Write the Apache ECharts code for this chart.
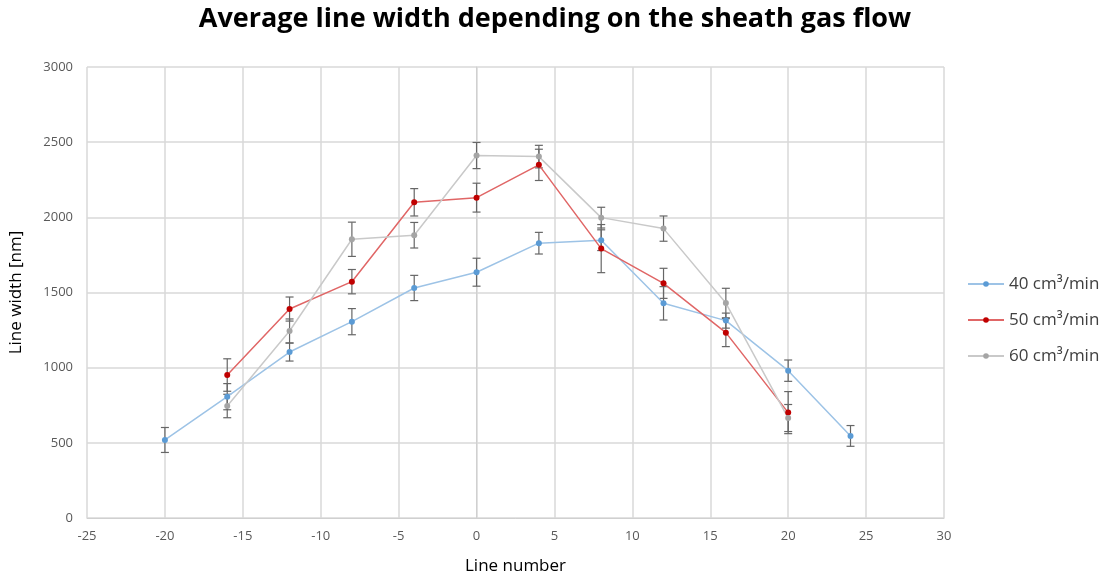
<!DOCTYPE html>
<html><head><meta charset="utf-8">
<script src="https://cdn.jsdelivr.net/npm/echarts@6/dist/echarts.min.js"></script>
<style>html,body{margin:0;padding:0;background:#fff}#c{width:1111px;height:580px}</style>
</head><body><div id="c"></div>
<script>
var x40 = [-20, -16, -12, -8, -4, 0, 4, 8, 12, 16, 20, 24];
var y40 = [519, 807, 1104, 1306, 1530, 1635, 1828, 1848, 1428, 1313, 980, 546];
var e40 = [83, 87, 60, 87, 84, 93, 72, 69, 111, 50, 71, 69];
var x50 = [-16, -12, -8, -4, 0, 4, 8, 12, 16, 20];
var y50 = [951, 1390, 1572, 2100, 2131, 2349, 1792, 1561, 1233, 701];
var e50 = [108, 80, 81, 91, 96, 104, 160, 100, 93, 140];
var x60 = [-16, -12, -8, -4, 0, 4, 8, 12, 16, 20];
var y60 = [745, 1244, 1854, 1881, 2411, 2404, 1998, 1925, 1430, 665];
var e60 = [78, 80, 114, 85, 87, 75, 69, 84, 98, 90];
var names = ['40 cm³/min', '50 cm³/min', '60 cm³/min'];
var markerColors = ['#5B9BD5', '#C00000', '#A5A5A5'];
var lineColors = ['#9DC3E6', '#E06666', '#C9C9C9'];

var FONT = 'Open Sans';
function pts(xs, ys) { return xs.map(function (x, i) { return [x, ys[i]]; }); }
function errData(xs, ys, es) { return xs.map(function (x, i) { return [x, ys[i] - es[i], ys[i] + es[i]]; }); }
function errSeries(xs, ys, es) {
  return {
    type: 'custom', silent: true, z: 1,
    data: errData(xs, ys, es),
    renderItem: function (params, api) {
      var lo = api.coord([api.value(0), api.value(1)]);
      var hi = api.coord([api.value(0), api.value(2)]);
      var w = 4;
      var st = { stroke: '#666', lineWidth: 1.2 };
      return { type: 'group', children: [
        { type: 'line', shape: { x1: lo[0], y1: lo[1], x2: hi[0], y2: hi[1] }, style: st },
        { type: 'line', shape: { x1: lo[0] - w, y1: lo[1], x2: lo[0] + w, y2: lo[1] }, style: st },
        { type: 'line', shape: { x1: hi[0] - w, y1: hi[1], x2: hi[0] + w, y2: hi[1] }, style: st }
      ]};
    }
  };
}
function lineSeries(k, xs, ys) {
  return {
    name: names[k], type: 'line', data: pts(xs, ys), z: 3,
    symbol: 'circle', symbolSize: 6,
    itemStyle: { color: markerColors[k] },
    lineStyle: { color: lineColors[k], width: 1.5 },
    emphasis: { disabled: true }
  };
}
var chart = echarts.init(document.getElementById('c'));
chart.setOption({
  animation: false,
  backgroundColor: '#fff',
  title: {
    text: 'Average line width depending on the sheath gas flow',
    left: 550, top: 1, textAlign: 'center',
    textStyle: { fontFamily: FONT, fontWeight: 'bold', fontSize: 27, color: '#000' }
  },
  grid: { left: 86, right: 167, top: 67, bottom: 62 },
  legend: {
    orient: 'vertical', left: 962, top: 268, itemGap: 14,
    itemWidth: 36, itemHeight: 7,
    data: names,
    textStyle: { fontFamily: FONT, fontSize: 17, color: '#404040', lineHeight: 22 }
  },
  xAxis: {
    type: 'value', min: -25, max: 30, interval: 5,
    name: 'Line number', nameLocation: 'middle', nameGap: 40,
    nameTextStyle: { fontFamily: FONT, fontSize: 17, color: '#000' },
    axisLine: { show: true, lineStyle: { color: '#D0D0D0' } },
    axisTick: { show: false },
    axisLabel: { fontFamily: FONT, fontSize: 13, color: '#595959', margin: 12 },
    splitLine: { show: true, lineStyle: { color: '#D9D9D9', width: 1.5 } }
  },
  yAxis: {
    type: 'value', min: 0, max: 3000, interval: 500,
    name: 'Line width [nm]', nameLocation: 'middle', nameGap: 62,
    nameTextStyle: { fontFamily: FONT, fontSize: 17, color: '#000' },
    axisLine: { show: true, lineStyle: { color: '#D0D0D0' } },
    axisTick: { show: false },
    axisLabel: { fontFamily: FONT, fontSize: 13, color: '#595959', margin: 14,
      formatter: function (v) { return String(v); } },
    splitLine: { show: true, lineStyle: { color: '#D9D9D9', width: 1.5 } }
  },
  series: [
    errSeries(x40, y40, e40), errSeries(x50, y50, e50), errSeries(x60, y60, e60),
    lineSeries(0, x40, y40), lineSeries(1, x50, y50), lineSeries(2, x60, y60)
  ]
});
</script></body></html>
